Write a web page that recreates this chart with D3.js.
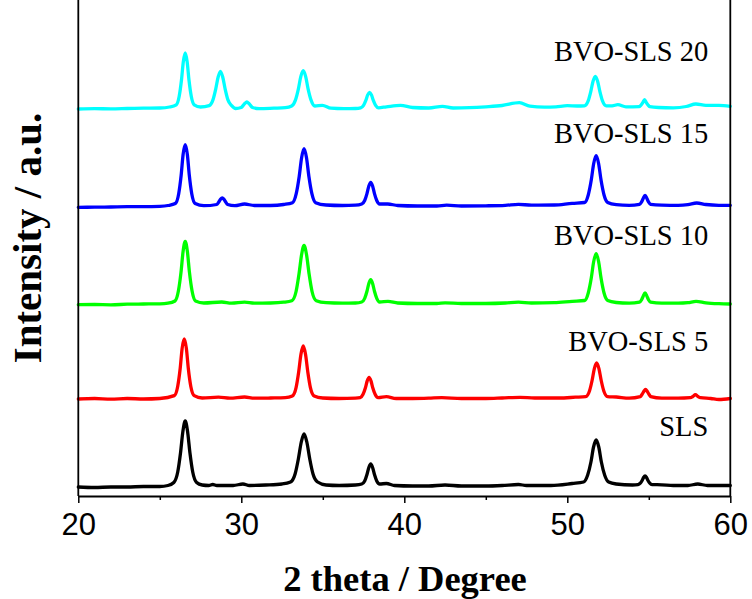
<!DOCTYPE html>
<html>
<head>
<meta charset="utf-8">
<script src="https://cdn.jsdelivr.net/npm/d3@7"></script>
<style>
  html, body { margin: 0; padding: 0; background: #fff; }
  svg { display: block; }
</style>
</head>
<body>
<svg id="chart" width="752" height="599"></svg>
<script>
// ---- data (2θ in degrees, intensity in a.u. with vertical offsets as plotted) ----
const seriesNames = ["SLS", "BVO-SLS 5", "BVO-SLS 10", "BVO-SLS 15", "BVO-SLS 20"];
const seriesColors = ["#000000", "#ff0000", "#00ff00", "#0000ff", "#00ffff"];
const xTicks = [20, 30, 40, 50, 60];
const xMinorTicks = [25, 35, 45, 55];

const sls = [
[20,9],[21,8.5],[22,9],[23,9],[24,9.5],[25,9.5],[25.5,10.5],[25.86,13.5],[26.10,24],[26.27,43],[26.42,65],[26.56,75],[26.70,65],[26.85,43],[27.02,24],[27.26,13.5],[27.6,11],[28,10.5],[28.25,11.5],[28.5,10.5],[29.5,10.5],[30.1,12],[30.5,10.5],[31.5,11],[32.5,12],[33.02,14],[33.30,22],[33.50,37],[33.68,54],[33.85,62],[34.02,54],[34.20,37],[34.40,22],[34.68,14],[35.2,11],[36,10.5],[37,11],[37.39,12],[37.57,15],[37.71,21.5],[37.825,28.5],[37.94,32],[38.055,28.5],[38.17,21.5],[38.31,15],[38.49,12],[38.9,12.5],[39.4,10.5],[40.5,10],[41.5,10],[42.5,11],[43.5,10],[45,10],[46,10.5],[47,11.5],[47.5,10.5],[49,10.5],[50.3,12.5],[51.0,14],[51.25,21],[51.45,34],[51.61,49],[51.77,56],[51.93,49],[52.09,34],[52.29,21],[52.54,14],[53,12],[54,11],[54.34,11.4],[54.48,12.8],[54.59,15.5],[54.68,18.5],[54.77,20],[54.86,18.5],[54.95,15.5],[55.06,12.8],[55.2,11.4],[55.8,11.2],[56.5,10.5],[57.4,10.5],[58,12],[58.6,10.5],[59.3,10.5],[60,10.5]
];
const bvo5 = [
[20,97],[21,97.5],[22,96.8],[23,97.5],[24,97],[25,97.5],[25.89,100.4],[26.10,109.8],[26.25,127.5],[26.37,147.6],[26.5,157],[26.63,147.6],[26.75,127.5],[26.90,109.8],[27.11,100.4],[27.6,98],[28.6,98.8],[29.3,97.8],[30.2,99],[30.8,97.8],[31.8,98],[32.7,98.3],[33.13,100],[33.36,108.4],[33.52,124],[33.66,141.7],[33.8,150],[33.94,141.7],[34.08,124],[34.24,108.4],[34.47,100],[35,98],[36,97.5],[37,97.8],[37.29,98.3],[37.47,101.7],[37.61,108],[37.725,115.1],[37.84,118.7],[37.955,115.1],[38.07,108],[38.21,101.7],[38.39,98.3],[38.9,99.3],[39.5,97.5],[40.5,97.5],[41.5,97.8],[42.3,98.3],[43.5,97.5],[45,97.5],[46,98],[47.1,98.7],[48,98],[49.5,98],[50.5,98.8],[51.13,99.4],[51.36,105],[51.52,115.5],[51.66,127.4],[51.8,133],[51.94,127.4],[52.08,115.5],[52.24,105],[52.47,99.4],[53,99],[53.8,97.8],[54.48,99.3],[54.6,102],[54.7,104.7],[54.8,106.7],[54.9,104.7],[55,102],[55.12,99.3],[55.8,97.8],[56.8,97.8],[57.55,98.3],[57.7,99.5],[57.86,101.3],[58.02,99.5],[58.17,98.3],[58.8,97.5],[59.3,96.5],[60,97.5]
];
const bvo10 = [
[20,191.3],[21,191.5],[22,191.2],[23,191.8],[24,192],[25,192.2],[25.5,192.8],[25.93,195],[26.14,205],[26.30,223.6],[26.43,244.7],[26.56,254.7],[26.69,244.7],[26.82,223.6],[26.98,205],[27.19,195],[27.7,193],[28.8,194],[29.4,192.8],[30.2,193.8],[30.8,192.8],[31.8,193],[32.6,193.8],[33.10,195.3],[33.36,204.5],[33.54,221.9],[33.70,241.5],[33.85,250.7],[34.00,241.5],[34.16,221.9],[34.34,204.5],[34.60,195.3],[35.2,193.3],[36.2,192.8],[37,193],[37.39,194],[37.57,197.7],[37.71,204.7],[37.825,212.6],[37.94,216.3],[38.055,212.6],[38.17,204.7],[38.31,197.7],[38.49,194],[39,194.7],[39.6,193],[40.8,192.5],[42,192.5],[42.5,193.2],[43.5,192.5],[45,192.5],[46.2,193],[47,193.8],[47.8,193],[49.2,193.3],[50.3,194.7],[51.06,195.5],[51.29,203.3],[51.47,217.9],[51.62,234.5],[51.77,242.3],[51.92,234.5],[52.07,217.9],[52.25,203.3],[52.48,195.5],[53,193.5],[53.8,192.8],[54.43,193.8],[54.55,196],[54.65,199.6],[54.77,203],[54.89,199.6],[54.99,196],[55.11,193.8],[55.8,192.8],[56.8,192.8],[57.4,193.3],[57.9,194.7],[58.5,193.2],[59.3,192.3],[60,192]
];
const bvo15 = [
[20,288.7],[21,288.8],[22,289],[23,289.3],[24,289.3],[25,289.7],[25.5,290.5],[25.95,292.5],[26.16,302.3],[26.31,320.7],[26.43,341.5],[26.56,351.3],[26.69,341.5],[26.81,320.7],[26.96,302.3],[27.17,292.5],[27.7,290.3],[28.5,291.5],[28.63,294.3],[28.73,296.8],[28.83,298],[28.93,296.8],[29.03,294.3],[29.16,291.5],[29.6,290.3],[30.2,292],[30.8,290.5],[31.8,290.5],[32.6,291.5],[33.14,293.3],[33.37,302.3],[33.55,319.2],[33.70,338.3],[33.85,347.3],[34.00,338.3],[34.15,319.2],[34.33,302.3],[34.56,293.3],[35.2,291],[36.2,290.5],[37,290.8],[37.39,292],[37.57,295.5],[37.71,302.4],[37.825,310],[37.94,313.7],[38.055,310],[38.17,302.4],[38.31,295.5],[38.49,292],[38.98,292],[39.6,290.5],[40.8,290],[42,290],[42.6,290.8],[43.5,290],[45,290.2],[46.2,290.7],[47,291.7],[47.8,290.8],[49.2,291],[50.3,292.7],[51.06,293.5],[51.29,301.3],[51.47,315.9],[51.62,332.5],[51.77,340.3],[51.92,332.5],[52.07,315.9],[52.25,301.3],[52.48,293.5],[53,291.3],[53.8,290.6],[54.43,291.7],[54.55,293.8],[54.65,297.2],[54.77,300.7],[54.89,297.2],[54.99,293.8],[55.11,291.7],[55.8,290.8],[56.8,290.6],[57.4,291.3],[57.94,293],[58.5,291.5],[59.3,290.7],[60,290.7]
];
const bvo20 = [
[20,387],[21,387.3],[22,387.2],[23,387.5],[24,387.8],[25,388],[25.6,389],[26.01,391.2],[26.19,399.8],[26.33,416],[26.445,434.4],[26.56,443],[26.675,434.4],[26.79,416],[26.93,399.8],[27.11,391.2],[27.5,389],[28.03,390.4],[28.26,396.1],[28.43,406.9],[28.58,419],[28.72,424.7],[28.86,419],[29.01,406.9],[29.18,396.1],[29.41,390.4],[29.65,387.5],[29.99,388.5],[30.13,390.8],[30.23,392.8],[30.34,394],[30.45,392.8],[30.55,390.8],[30.69,388.5],[31.1,387.3],[32,387.8],[32.7,388.3],[33.09,390],[33.32,395.9],[33.50,406.9],[33.65,419.4],[33.8,425.3],[33.95,419.4],[34.10,406.9],[34.28,395.9],[34.51,390],[34.97,390.7],[35.5,387.8],[36.3,387.3],[37,387.5],[37.32,388.2],[37.50,390.7],[37.64,395.6],[37.755,401.1],[37.87,403.7],[37.985,401.1],[38.10,395.6],[38.24,390.7],[38.42,388.2],[38.9,389.2],[39.77,390.7],[40.5,388.5],[41.5,388],[42.34,389.7],[43,388],[44,388.3],[45,389.2],[46,390.5],[47.06,393.3],[47.7,389.8],[48.6,388.8],[49.3,389.2],[50,390.3],[50.6,390],[51.05,390.2],[51.28,395.1],[51.44,404.4],[51.58,414.8],[51.72,419.7],[51.86,414.8],[52.0,404.4],[52.16,395.1],[52.39,390.2],[52.75,390.2],[53.1,391.3],[53.6,389.2],[54.42,389.4],[54.54,391.3],[54.64,393.6],[54.74,396.3],[54.84,393.6],[54.94,391.3],[55.06,389.4],[55.6,388.5],[56.5,388.2],[57.3,389.5],[57.89,392],[58.5,390.7],[59.3,390.7],[60,389.7]
];
const seriesData = [sls, bvo5, bvo10, bvo15, bvo20];
// label anchor values (2θ, intensity) for the series names (right end of text)
const labelX = [58.65, 58.65, 58.65, 58.65, 58.65];
const labelY = [60, 145, 251, 353, 435];

// ---- layout ----
const svg = d3.select("#chart");
const plotLeft = 78.3, plotRight = 730.3, plotTop = 0, plotBottom = 496;
const x = d3.scaleLinear().domain([20, 60]).range([plotLeft, plotRight]);
const y = d3.scaleLinear().domain([0, 496]).range([plotBottom, plotTop]);

// curves
const line = d3.line().x(d => x(d[0])).y(d => y(d[1])).curve(d3.curveMonotoneX);
const curves = svg.append("g");
seriesData.forEach((s, i) => {
  curves.append("path")
    .datum(s)
    .attr("d", line)
    .attr("fill", "none")
    .attr("stroke", seriesColors[i])
    .attr("stroke-width", 3.3)
    .attr("stroke-linejoin", "round")
    .attr("stroke-linecap", "round");
});

// series labels
seriesNames.forEach((n, i) => {
  svg.append("text")
    .attr("x", x(labelX[i]))
    .attr("y", y(labelY[i]))
    .attr("text-anchor", "end")
    .attr("font-family", "'Liberation Serif', 'Times New Roman', serif")
    .attr("font-size", 28.5)
    .attr("fill", "#000")
    .text(n);
});

// x axis (major + minor)
const gx = svg.append("g").attr("transform", `translate(0,${plotBottom})`);
gx.call(d3.axisBottom(x).tickValues(xTicks).tickSize(7).tickSizeOuter(0).tickFormat(d3.format("d")));
const gxm = svg.append("g").attr("transform", `translate(0,${plotBottom})`);
gxm.call(d3.axisBottom(x).tickValues(xMinorTicks).tickSize(4).tickSizeOuter(0).tickFormat(""));
gxm.select(".domain").remove();
[gx, gxm].forEach(g => {
  g.selectAll("line").attr("stroke", "#000").attr("stroke-width", 1.5);
  g.selectAll(".domain").attr("stroke", "#000").attr("stroke-width", 1.8);
});
gx.selectAll("text")
  .attr("font-family", "'Liberation Sans', Arial, sans-serif")
  .attr("font-size", 31)
  .attr("fill", "#000")
  .attr("y", 17)
  .attr("dy", "0.71em");

// left & right frame lines
svg.append("line").attr("x1", plotLeft).attr("x2", plotLeft).attr("y1", plotTop).attr("y2", plotBottom)
  .attr("stroke", "#000").attr("stroke-width", 1.8);
svg.append("line").attr("x1", plotRight).attr("x2", plotRight).attr("y1", plotTop).attr("y2", plotBottom)
  .attr("stroke", "#000").attr("stroke-width", 1.8);

// axis titles
svg.append("text")
  .attr("x", 405).attr("y", 591)
  .attr("text-anchor", "middle")
  .attr("font-family", "'Liberation Serif', 'Times New Roman', serif")
  .attr("font-weight", "bold")
  .attr("font-size", 36.5)
  .attr("fill", "#000")
  .text("2 theta / Degree");

svg.append("text")
  .attr("transform", "translate(41,238) rotate(-90)")
  .attr("text-anchor", "middle")
  .attr("font-family", "'Liberation Serif', 'Times New Roman', serif")
  .attr("font-weight", "bold")
  .attr("font-size", 41)
  .attr("fill", "#000")
  .text("Intensity / a.u.");
</script>
</body>
</html>
